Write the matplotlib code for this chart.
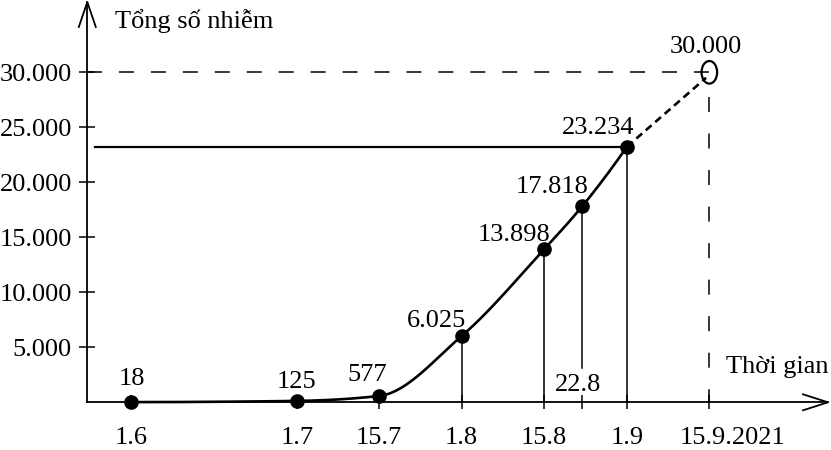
import numpy as np
import matplotlib
matplotlib.use("Agg")
import matplotlib.pyplot as plt
from matplotlib.patches import Ellipse

plt.rcParams['font.family'] = ['Liberation Serif', 'DejaVu Serif']
plt.rcParams['lines.scale_dashes'] = False
plt.rcParams['mathtext.default'] = 'regular'

# ---- data (x in chart units, roughly days since 1.6) ----
dates = ['1.6', '1.7', '15.7', '1.8', '15.8', '22.8', '1.9']
x_pos = [0.0, 30.4, 45.5, 60.6, 75.7, 82.7, 90.9]
cases = [18, 125, 577, 6025, 13898, 17818, 23234]
case_labels = ['18', '125', '577', '6.025', '13.898', '17.818', '23.234']
forecast_date = '15.9.2021'
forecast_x = 106.0
forecast_value = 30000
forecast_label = '30.000'
y_ticks = [5000, 10000, 15000, 20000, 25000, 30000]
y_tick_labels = ['5.000', '10.000', '15.000', '20.000', '25.000', '30.000']
y_title = 'Tổng số nhiễm'
x_title = 'Thời gian'

FS = 19
PXX = 5.456      # pixels per x unit
PXY = 0.011      # pixels per case
X0PX = 131.0     # pixel of x = 0
Y0PX = 402.3     # pixel of y = 0


def pchip(x, y, xs):
    x = np.asarray(x, float); y = np.asarray(y, float)
    h = np.diff(x); delta = np.diff(y) / h
    n = len(x); d = np.zeros(n)
    for k in range(1, n - 1):
        if delta[k - 1] * delta[k] > 0:
            w1 = 2 * h[k] + h[k - 1]; w2 = h[k] + 2 * h[k - 1]
            d[k] = (w1 + w2) / (w1 / delta[k - 1] + w2 / delta[k])
    d[0] = ((2 * h[0] + h[1]) * delta[0] - h[0] * delta[1]) / (h[0] + h[1])
    if np.sign(d[0]) != np.sign(delta[0]):
        d[0] = 0
    d[-1] = ((2 * h[-1] + h[-2]) * delta[-1] - h[-1] * delta[-2]) / (h[-1] + h[-2])
    if np.sign(d[-1]) != np.sign(delta[-1]):
        d[-1] = 0
    out = np.empty_like(xs)
    idx = np.clip(np.searchsorted(x, xs) - 1, 0, n - 2)
    for i, xv in enumerate(xs):
        k = idx[i]; t = (xv - x[k]) / h[k]
        h00 = 2 * t**3 - 3 * t**2 + 1; h10 = t**3 - 2 * t**2 + t
        h01 = -2 * t**3 + 3 * t**2; h11 = t**3 - t**2
        out[i] = h00 * y[k] + h10 * h[k] * d[k] + h01 * y[k + 1] + h11 * h[k] * d[k + 1]
    return out


fig = plt.figure(figsize=(8.31, 4.5), dpi=100)
ax = fig.add_axes([0, 0, 1, 1])
ax.set_facecolor('none')
ax.set_xlim(-X0PX / PXX, (831 - X0PX) / PXX)
ax.set_ylim(-(450 - Y0PX) / PXY, Y0PX / PXY)

x_axis_at = (87.3 - X0PX) / PXX
y_top = (Y0PX - 2) / PXY
x_right = (828 - X0PX) / PXX

# spines as the axes
for s in ['top', 'right']:
    ax.spines[s].set_visible(False)
ax.spines['left'].set_position(('data', x_axis_at))
ax.spines['left'].set_bounds(0, y_top)
ax.spines['bottom'].set_position(('data', 0))
ax.spines['bottom'].set_bounds(x_axis_at, x_right)
for s in ['left', 'bottom']:
    ax.spines[s].set_linewidth(1.3)

ax.set_yticks(y_ticks, y_tick_labels)
ax.tick_params(axis='y', direction='inout', length=11, width=1.1, pad=5.6,
               labelsize=FS)
tick_x = [p for p, d in zip(x_pos, dates)] + [forecast_x]
ax.set_xticks(tick_x, [''] * len(tick_x))
ax.tick_params(axis='x', direction='inout', length=10, width=1.1)

# arrow heads (open chevrons)
ax.plot([x_axis_at - 8.5 / PXX, x_axis_at, x_axis_at + 8.5 / PXX],
        [y_top - 25 / PXY, y_top, y_top - 25 / PXY], color='black', lw=1.3,
        solid_joinstyle='miter', clip_on=False)
ax.plot([x_right - 25 / PXX, x_right, x_right - 25 / PXX],
        [8 / PXY, 0, -8 / PXY], color='black', lw=1.3,
        solid_joinstyle='miter', clip_on=False)

# smooth curve through the data
xs = np.linspace(x_pos[0], x_pos[-1], 400)
ax.plot(xs, pchip(x_pos, cases, xs), color='black', lw=1.9, zorder=3)
ax.plot(x_pos, cases, 'o', color='black', ms=9.5, zorder=4)

# vertical drop lines
for d, xp, v in zip(dates, x_pos, cases):
    if d in ('1.8', '15.8', '1.9'):
        ax.plot([xp, xp], [0, v], color='black', lw=1.1, zorder=2)
    elif d == '22.8':
        ax.plot([xp, xp], [3100, v], color='black', lw=1.1, zorder=2)

# horizontal line to last value
ax.plot([(95 - X0PX) / PXX, x_pos[-1]], [cases[-1], cases[-1]],
        color='black', lw=1.6, zorder=2)

# forecast
ax.plot([x_axis_at, forecast_x], [forecast_value, forecast_value],
        color='black', lw=1.1, dashes=(10.8, 12.2))
ax.plot([forecast_x, forecast_x], [forecast_value - 2250, 0],
        color='black', lw=1.1, dashes=(10.8, 15.5))
ax.plot([x_pos[-1], forecast_x - 0.6], [cases[-1], forecast_value - 500],
        color='black', lw=1.9, dashes=(5.5, 3.5))
ax.add_patch(Ellipse((forecast_x, forecast_value), 15.6 / PXX, 22.6 / PXY,
                     fill=False, edgecolor='black', lw=1.6, zorder=5))

# value labels (offsets in pixels: dx, baseline dy above point)
lab_off = {'18': (1, 17), '125': (0, 13), '577': (-12.5, 15),
           '6.025': (-24.7, 9.5), '13.898': (-29.5, 8.3), '17.818': (-30, 13),
           '23.234': (-28.7, 13)}
for lbl, xp, v in zip(case_labels, x_pos, cases):
    dx, dy = lab_off[lbl]
    ax.annotate(lbl, (xp, v), xytext=(dx * 0.72, dy * 0.72),
                textcoords='offset points', ha='center', va='baseline',
                fontsize=FS)
ax.annotate(forecast_label, (forecast_x, forecast_value),
            xytext=(-3.3 * 0.72, 19 * 0.72), textcoords='offset points',
            ha='center', va='baseline', fontsize=FS)

# x labels
XLAB_DY = -41.5
for d, xp in zip(dates, x_pos):
    if d == '22.8':
        ax.annotate(d, (xp, 0), xytext=(-4.5 * 0.72, 11 * 0.72),
                    textcoords='offset points', ha='center', va='baseline',
                    fontsize=FS)
    else:
        ax.annotate(d, (xp, 0), xytext=(0, XLAB_DY * 0.72),
                    textcoords='offset points', ha='center', va='baseline',
                    fontsize=FS)
ax.annotate(forecast_date, (forecast_x, 0), xytext=(23 * 0.72, XLAB_DY * 0.72),
            textcoords='offset points', ha='center', va='baseline', fontsize=FS)

# axis titles
fig.text(115 / 831, 1 - 28 / 450, y_title, ha='left', va='baseline', fontsize=FS)
fig.text(726 / 831, 1 - 373 / 450, x_title, ha='left', va='baseline', fontsize=FS)

fig.savefig('out.png', dpi=100, facecolor='white')
